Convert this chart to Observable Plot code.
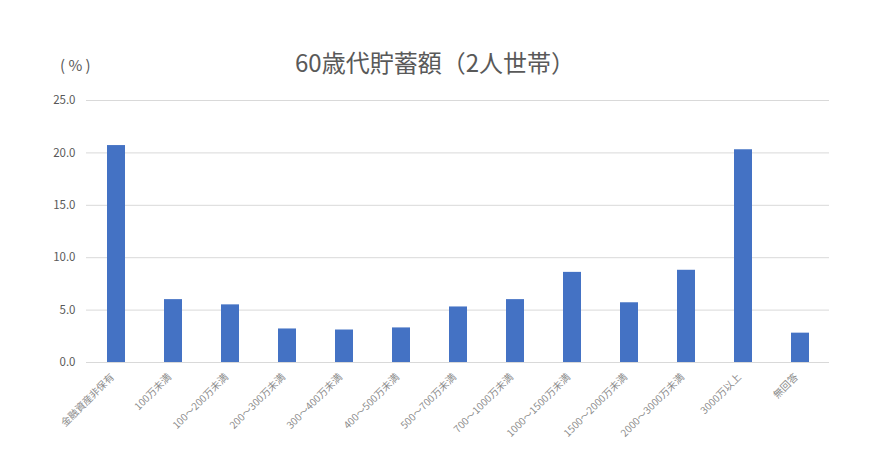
<!DOCTYPE html>
<html>
<head>
<meta charset="utf-8">
<script src="https://cdn.jsdelivr.net/npm/d3@7"></script>
<script src="https://cdn.jsdelivr.net/npm/@observablehq/plot@0.6"></script>
<style>
  body { margin: 0; background: #fff; font-family: "Noto Sans CJK JP", "Noto Sans", sans-serif; }
  #wrap { width: 870px; position: relative; }
  #head { height: 80px; position: relative; }
  #title { position: absolute; left: 0; right: 0; top: 50px; text-align: center; font-size: 24px; color: #595959; line-height: 1; }
  #unit { position: absolute; left: 60px; top: 57px; font-size: 15px; color: #595959; line-height: 1; white-space: pre; }
</style>
</head>
<body>
<div id="wrap">
  <div id="head">
    <div id="unit">( % )</div>
    <div id="title">60歳代貯蓄額（2人世帯）</div>
  </div>
  <div id="chart"></div>
</div>
<script>
const categories = ["金融資産非保有", "100万未満", "100～200万未満", "200～300万未満", "300～400万未満", "400～500万未満", "500～700万未満", "700～1000万未満", "1000～1500万未満", "1500～2000万未満", "2000～3000万未満", "3000万以上", "無回答"];
const values = [20.7, 6.0, 5.5, 3.2, 3.1, 3.3, 5.3, 6.0, 8.6, 5.7, 8.8, 20.3, 2.8];
const yTicks = [0, 5, 10, 15, 20, 25];

const data = categories.map((c, i) => ({category: c, value: values[i]}));

const chart = Plot.plot({
  width: 870,
  height: 375,
  marginLeft: 86,
  marginRight: 41,
  marginTop: 20,
  marginBottom: 93,
  style: { fontFamily: '"Noto Sans CJK JP", "Noto Sans", sans-serif', color: "#595959", background: "#fff" },
  x: { domain: categories, paddingInner: 0.69, paddingOuter: 0.345, label: null },
  y: { domain: [0, 25], label: null },
  marks: [
    Plot.gridY(yTicks, { stroke: "#d9d9d9", strokeOpacity: 1, strokeWidth: 1 }),
    Plot.barY(data, { x: "category", y: "value", fill: "#4472C4" }),
    Plot.axisY(yTicks, { tickSize: 0, tickPadding: 11, tickFormat: d => d.toFixed(1), fontSize: 11.5, fill: "#595959", label: null }),
    Plot.axisX({ tickSize: 0, tickPadding: 6, dy: 7, dx: -4, tickRotate: -45, fontSize: 10, fill: "#8c8c8c", label: null })
  ]
});
document.getElementById("chart").appendChild(chart);
</script>
</body>
</html>
